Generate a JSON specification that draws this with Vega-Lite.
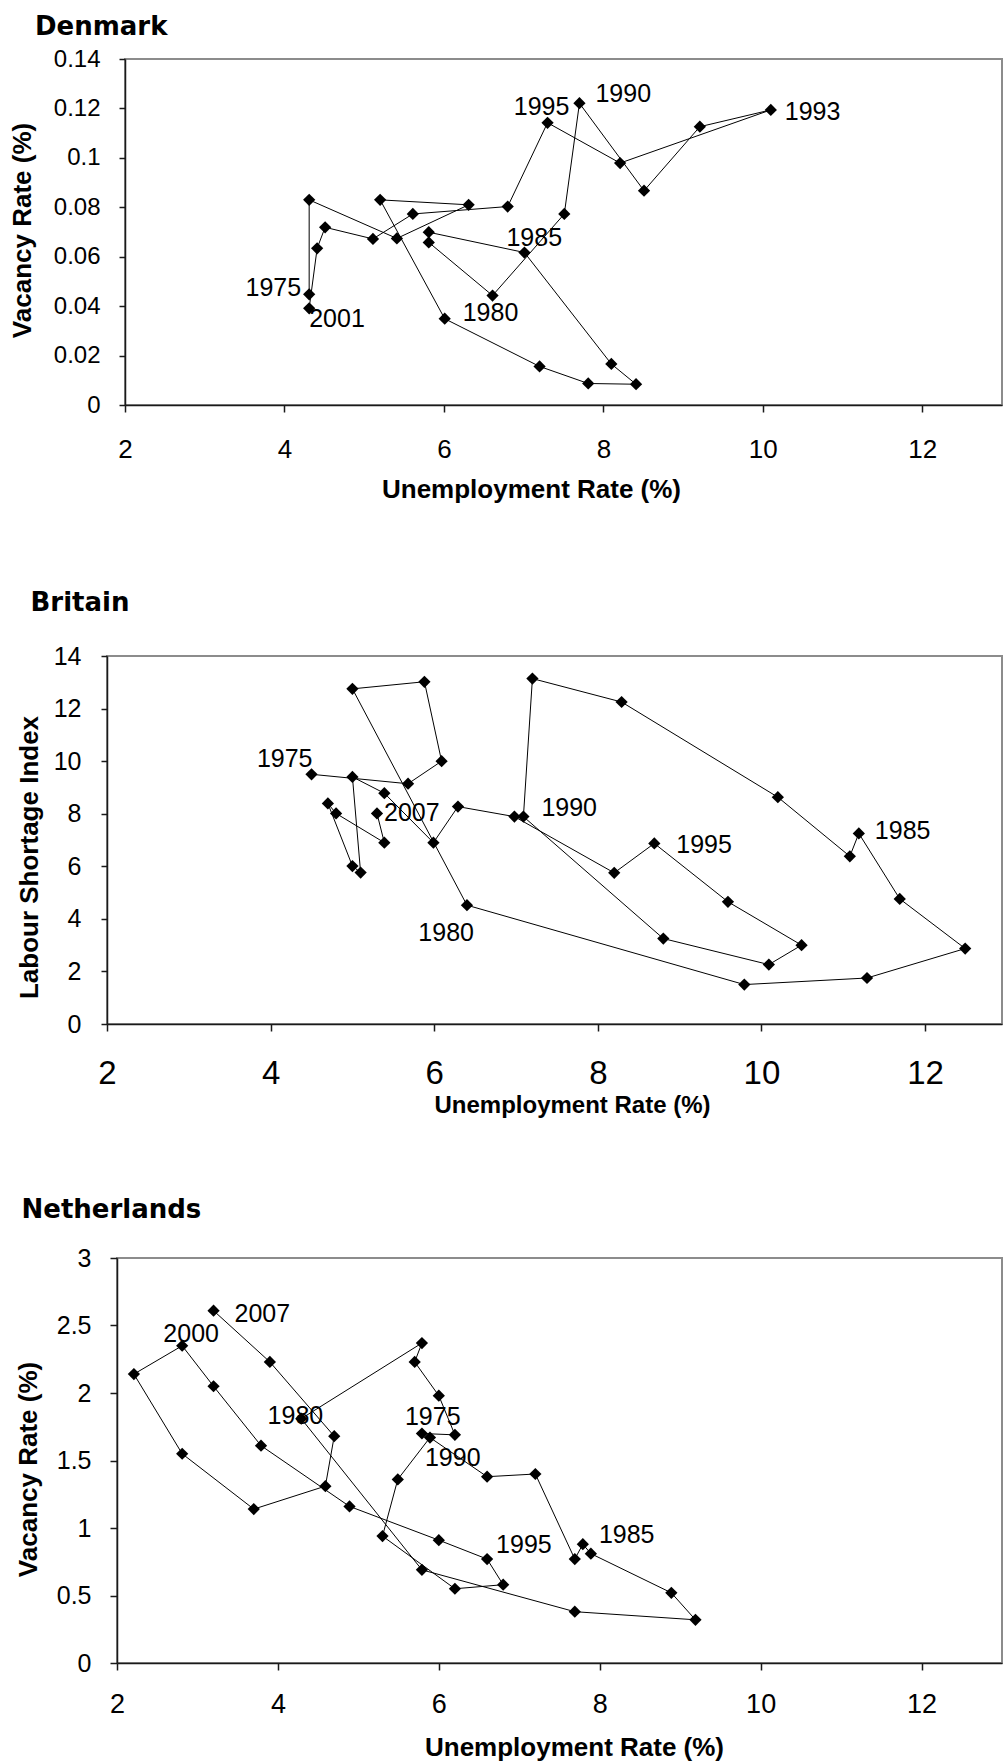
{
  "$schema": "https://vega.github.io/schema/vega-lite/v6.json",
  "padding": {"left": 5, "top": 12, "right": 0, "bottom": 0},
  "background": "white",
  "config": {
    "view": {"stroke": "#8c8c8c", "strokeWidth": 2},
    "axis": {"grid": false, "domainColor": "#1a1a1a", "domainWidth": 1.5, "tickColor": "#1a1a1a", "tickWidth": 1.5, "labelColor": "black", "labelFont": "Liberation Sans", "titleColor": "black", "titleFont": "Liberation Sans", "titleFontWeight": "bold", "labelFlush": false, "labelOverlap": false, "titleBaseline": "alphabetic"},
    "text": {"font": "Liberation Sans", "fontSize": 25, "color": "black", "baseline": "alphabetic"},
    "title": {"font": "DejaVu Sans", "fontSize": 26, "fontWeight": "bold", "color": "black", "baseline": "alphabetic", "anchor": "start", "frame": "group"}
  },
  "datasets": {
    "spacer": [{"k": 0}],
    "denmark": [
      {"year": 1975, "u": 4.31, "v": 0.0448}, {"year": 1976, "u": 4.31, "v": 0.0830}, {"year": 1977, "u": 5.41, "v": 0.0674},
      {"year": 1978, "u": 6.31, "v": 0.0810}, {"year": 1979, "u": 5.20, "v": 0.0830}, {"year": 1980, "u": 6.01, "v": 0.0349},
      {"year": 1981, "u": 7.20, "v": 0.0156}, {"year": 1982, "u": 7.81, "v": 0.0087}, {"year": 1983, "u": 8.41, "v": 0.0084},
      {"year": 1984, "u": 8.10, "v": 0.0166}, {"year": 1985, "u": 7.01, "v": 0.0617}, {"year": 1986, "u": 5.81, "v": 0.0699},
      {"year": 1987, "u": 5.81, "v": 0.0658}, {"year": 1988, "u": 6.61, "v": 0.0443}, {"year": 1989, "u": 7.51, "v": 0.0773},
      {"year": 1990, "u": 7.70, "v": 0.1221}, {"year": 1991, "u": 8.51, "v": 0.0867}, {"year": 1992, "u": 9.21, "v": 0.1126},
      {"year": 1993, "u": 10.10, "v": 0.1194}, {"year": 1994, "u": 8.21, "v": 0.0979}, {"year": 1995, "u": 7.30, "v": 0.1142},
      {"year": 1996, "u": 6.80, "v": 0.0803}, {"year": 1997, "u": 5.61, "v": 0.0773}, {"year": 1998, "u": 5.11, "v": 0.0672},
      {"year": 1999, "u": 4.51, "v": 0.0719}, {"year": 2000, "u": 4.41, "v": 0.0634}, {"year": 2001, "u": 4.31, "v": 0.0391}
    ],
    "britain": [
      {"year": 1975, "u": 4.50, "v": 9.50}, {"year": 1976, "u": 5.68, "v": 9.14}, {"year": 1977, "u": 6.09, "v": 10.00},
      {"year": 1978, "u": 5.88, "v": 13.02}, {"year": 1979, "u": 5.00, "v": 12.75}, {"year": 1980, "u": 6.40, "v": 4.52},
      {"year": 1981, "u": 9.79, "v": 1.50}, {"year": 1982, "u": 11.29, "v": 1.75}, {"year": 1983, "u": 12.49, "v": 2.87},
      {"year": 1984, "u": 11.69, "v": 4.76}, {"year": 1985, "u": 11.19, "v": 7.25}, {"year": 1986, "u": 11.08, "v": 6.38},
      {"year": 1987, "u": 10.20, "v": 8.63}, {"year": 1988, "u": 8.29, "v": 12.25}, {"year": 1989, "u": 7.20, "v": 13.14},
      {"year": 1990, "u": 7.09, "v": 7.89}, {"year": 1991, "u": 8.80, "v": 3.25}, {"year": 1992, "u": 10.09, "v": 2.26},
      {"year": 1993, "u": 10.49, "v": 3.00}, {"year": 1994, "u": 9.59, "v": 4.65}, {"year": 1995, "u": 8.69, "v": 6.87},
      {"year": 1996, "u": 8.20, "v": 5.75}, {"year": 1997, "u": 6.98, "v": 7.89}, {"year": 1998, "u": 6.29, "v": 8.27},
      {"year": 1999, "u": 5.99, "v": 6.90}, {"year": 2000, "u": 5.39, "v": 8.78}, {"year": 2001, "u": 5.00, "v": 9.40},
      {"year": 2002, "u": 5.10, "v": 5.76}, {"year": 2003, "u": 5.00, "v": 6.01}, {"year": 2004, "u": 4.70, "v": 8.39},
      {"year": 2005, "u": 4.80, "v": 8.01}, {"year": 2006, "u": 5.39, "v": 6.90}, {"year": 2007, "u": 5.30, "v": 8.01}
    ],
    "netherlands": [
      {"year": 1975, "u": 5.79, "v": 1.70}, {"year": 1976, "u": 6.20, "v": 1.69}, {"year": 1977, "u": 6.00, "v": 1.98},
      {"year": 1978, "u": 5.70, "v": 2.23}, {"year": 1979, "u": 5.79, "v": 2.37}, {"year": 1980, "u": 4.29, "v": 1.81},
      {"year": 1981, "u": 5.79, "v": 0.69}, {"year": 1982, "u": 7.69, "v": 0.38}, {"year": 1983, "u": 9.19, "v": 0.32},
      {"year": 1984, "u": 8.89, "v": 0.52}, {"year": 1985, "u": 7.89, "v": 0.81}, {"year": 1986, "u": 7.79, "v": 0.88},
      {"year": 1987, "u": 7.69, "v": 0.77}, {"year": 1988, "u": 7.20, "v": 1.40}, {"year": 1989, "u": 6.60, "v": 1.38},
      {"year": 1990, "u": 5.89, "v": 1.67}, {"year": 1991, "u": 5.49, "v": 1.36}, {"year": 1992, "u": 5.30, "v": 0.94},
      {"year": 1993, "u": 6.20, "v": 0.55}, {"year": 1994, "u": 6.80, "v": 0.58}, {"year": 1995, "u": 6.60, "v": 0.77},
      {"year": 1996, "u": 6.00, "v": 0.91}, {"year": 1997, "u": 4.89, "v": 1.16}, {"year": 1998, "u": 3.79, "v": 1.61},
      {"year": 1999, "u": 3.20, "v": 2.05}, {"year": 2000, "u": 2.81, "v": 2.35}, {"year": 2001, "u": 2.21, "v": 2.14},
      {"year": 2002, "u": 2.81, "v": 1.55}, {"year": 2003, "u": 3.70, "v": 1.14}, {"year": 2004, "u": 4.59, "v": 1.31},
      {"year": 2005, "u": 4.70, "v": 1.68}, {"year": 2006, "u": 3.90, "v": 2.23}, {"year": 2007, "u": 3.20, "v": 2.61}
    ]
  },
  "spacing": 77,
  "vconcat": [
    {
      "spacing": 86,
      "vconcat": [
        {
          "spacing": 0,
          "hconcat": [
            {"width": 2.5, "height": 1, "view": {"stroke": null}, "data": {"name": "spacer"}, "mark": {"type": "text", "text": ""}, "encoding": {}},
            {
              "title": {"text": "Denmark", "dx": -90, "offset": 7.3},
              "width": 877,
              "height": 346,
              "data": {"name": "denmark"},
              "encoding": {
                "x": {"field": "u", "type": "quantitative", "scale": {"domain": [2, 13], "nice": false, "zero": false},
                  "axis": {"title": "Unemployment Rate (%)", "values": [2, 4, 6, 8, 10, 12], "labelFontSize": 26, "labelPadding": 24, "tickSize": 7, "titleFontSize": 26, "titleX": 406, "titleY": 92}},
                "y": {"field": "v", "type": "quantitative", "scale": {"domain": [0, 0.14], "nice": false, "zero": false},
                  "axis": {"title": "Vacancy Rate (%)", "values": [0, 0.02, 0.04, 0.06, 0.08, 0.1, 0.12, 0.14], "format": ".2~f", "labelFontSize": 24, "labelPadding": 19, "tickSize": 6, "titleFontSize": 26, "titleX": -94.5, "titleY": 171, "titleAngle": 270}}
              },
              "layer": [
                {"mark": {"type": "line", "color": "black", "strokeWidth": 1}, "encoding": {"order": {"field": "year", "type": "quantitative"}}},
                {"mark": {"type": "point", "shape": "diamond", "filled": true, "color": "black", "size": 150, "opacity": 1}, "encoding": {}},
                {"transform": [{"filter": "datum.year == 1975"}], "mark": {"type": "text", "align": "right", "dx": -8, "dy": 2}, "encoding": {"text": {"field": "year", "type": "nominal"}}},
                {"transform": [{"filter": "datum.year == 2001"}], "mark": {"type": "text", "align": "left", "dx": 0, "dy": 19}, "encoding": {"text": {"field": "year", "type": "nominal"}}},
                {"transform": [{"filter": "datum.year == 1980"}], "mark": {"type": "text", "align": "left", "dx": 18, "dy": 2}, "encoding": {"text": {"field": "year", "type": "nominal"}}},
                {"transform": [{"filter": "datum.year == 1985"}], "mark": {"type": "text", "align": "left", "dx": -18, "dy": -7}, "encoding": {"text": {"field": "year", "type": "nominal"}}},
                {"transform": [{"filter": "datum.year == 1990"}], "mark": {"type": "text", "align": "left", "dx": 16, "dy": -1}, "encoding": {"text": {"field": "year", "type": "nominal"}}},
                {"transform": [{"filter": "datum.year == 1993"}], "mark": {"type": "text", "align": "left", "dx": 14, "dy": 10}, "encoding": {"text": {"field": "year", "type": "nominal"}}},
                {"transform": [{"filter": "datum.year == 1995"}], "mark": {"type": "text", "align": "center", "dx": -6, "dy": -8}, "encoding": {"text": {"field": "year", "type": "nominal"}}}
              ]
            }
          ]
        },
        {
          "spacing": 0,
          "hconcat": [
            {"width": 9.5, "height": 1, "view": {"stroke": null}, "data": {"name": "spacer"}, "mark": {"type": "text", "text": ""}, "encoding": {}},
            {
              "title": {"text": "Britain", "dx": -76.5, "offset": 27.7},
              "width": 895,
              "height": 368,
              "data": {"name": "britain"},
              "encoding": {
                "x": {"field": "u", "type": "quantitative", "scale": {"domain": [2, 12.94], "nice": false, "zero": false},
                  "axis": {"title": "Unemployment Rate (%)", "values": [2, 4, 6, 8, 10, 12], "labelFontSize": 33, "labelPadding": 26, "tickSize": 7, "titleFontSize": 24, "titleX": 465, "titleY": 88.7}},
                "y": {"field": "v", "type": "quantitative", "scale": {"domain": [0, 14], "nice": false, "zero": false},
                  "axis": {"title": "Labour Shortage Index", "values": [0, 2, 4, 6, 8, 10, 12, 14], "labelFontSize": 25, "labelPadding": 20, "tickSize": 6, "titleFontSize": 26, "titleX": -69.5, "titleY": 201, "titleAngle": 270}}
              },
              "layer": [
                {"mark": {"type": "line", "color": "black", "strokeWidth": 1}, "encoding": {"order": {"field": "year", "type": "quantitative"}}},
                {"mark": {"type": "point", "shape": "diamond", "filled": true, "color": "black", "size": 150, "opacity": 1}, "encoding": {}},
                {"transform": [{"filter": "datum.year == 1975"}], "mark": {"type": "text", "align": "right", "dx": 1, "dy": -7}, "encoding": {"text": {"field": "year", "type": "nominal"}}},
                {"transform": [{"filter": "datum.year == 2007"}], "mark": {"type": "text", "align": "left", "dx": 7, "dy": 8}, "encoding": {"text": {"field": "year", "type": "nominal"}}},
                {"transform": [{"filter": "datum.year == 1980"}], "mark": {"type": "text", "align": "right", "dx": 7, "dy": 36}, "encoding": {"text": {"field": "year", "type": "nominal"}}},
                {"transform": [{"filter": "datum.year == 1990"}], "mark": {"type": "text", "align": "left", "dx": 18, "dy": -1}, "encoding": {"text": {"field": "year", "type": "nominal"}}},
                {"transform": [{"filter": "datum.year == 1995"}], "mark": {"type": "text", "align": "left", "dx": 22, "dy": 10}, "encoding": {"text": {"field": "year", "type": "nominal"}}},
                {"transform": [{"filter": "datum.year == 1985"}], "mark": {"type": "text", "align": "left", "dx": 16, "dy": 6}, "encoding": {"text": {"field": "year", "type": "nominal"}}}
              ]
            }
          ]
        }
      ]
    },
    {
      "spacing": 0,
      "hconcat": [
        {"width": 8.5, "height": 1, "view": {"stroke": null}, "data": {"name": "spacer"}, "mark": {"type": "text", "text": ""}, "encoding": {}},
        {
          "title": {"text": "Netherlands", "dx": -95.5, "offset": 22.6},
          "width": 885,
          "height": 405,
          "data": {"name": "netherlands"},
          "encoding": {
            "x": {"field": "u", "type": "quantitative", "scale": {"domain": [2, 13], "nice": false, "zero": false},
              "axis": {"title": "Unemployment Rate (%)", "values": [2, 4, 6, 8, 10, 12], "labelFontSize": 27, "labelPadding": 21.5, "tickSize": 7, "titleFontSize": 26, "titleX": 457, "titleY": 92.7}},
            "y": {"field": "v", "type": "quantitative", "scale": {"domain": [0, 3], "nice": false, "zero": false},
              "axis": {"title": "Vacancy Rate (%)", "values": [0, 0.5, 1, 1.5, 2, 2.5, 3], "format": ".1~f", "labelFontSize": 25, "labelPadding": 19, "tickSize": 7, "titleFontSize": 26, "titleX": -80.5, "titleY": 211, "titleAngle": 270}}
          },
          "layer": [
            {"mark": {"type": "line", "color": "black", "strokeWidth": 1}, "encoding": {"order": {"field": "year", "type": "quantitative"}}},
            {"mark": {"type": "point", "shape": "diamond", "filled": true, "color": "black", "size": 150, "opacity": 1}, "encoding": {}},
            {"transform": [{"filter": "datum.year == 1980"}], "mark": {"type": "text", "align": "right", "dx": 22, "dy": 5}, "encoding": {"text": {"field": "year", "type": "nominal"}}},
            {"transform": [{"filter": "datum.year == 1975"}], "mark": {"type": "text", "align": "left", "dx": -17, "dy": -9}, "encoding": {"text": {"field": "year", "type": "nominal"}}},
            {"transform": [{"filter": "datum.year == 1990"}], "mark": {"type": "text", "align": "left", "dx": -5, "dy": 28}, "encoding": {"text": {"field": "year", "type": "nominal"}}},
            {"transform": [{"filter": "datum.year == 1985"}], "mark": {"type": "text", "align": "left", "dx": 8, "dy": -11}, "encoding": {"text": {"field": "year", "type": "nominal"}}},
            {"transform": [{"filter": "datum.year == 1995"}], "mark": {"type": "text", "align": "left", "dx": 9, "dy": -6}, "encoding": {"text": {"field": "year", "type": "nominal"}}},
            {"transform": [{"filter": "datum.year == 2000"}], "mark": {"type": "text", "align": "center", "dx": 9, "dy": -4}, "encoding": {"text": {"field": "year", "type": "nominal"}}},
            {"transform": [{"filter": "datum.year == 2007"}], "mark": {"type": "text", "align": "left", "dx": 21, "dy": 11}, "encoding": {"text": {"field": "year", "type": "nominal"}}}
          ]
        }
      ]
    }
  ]
}
